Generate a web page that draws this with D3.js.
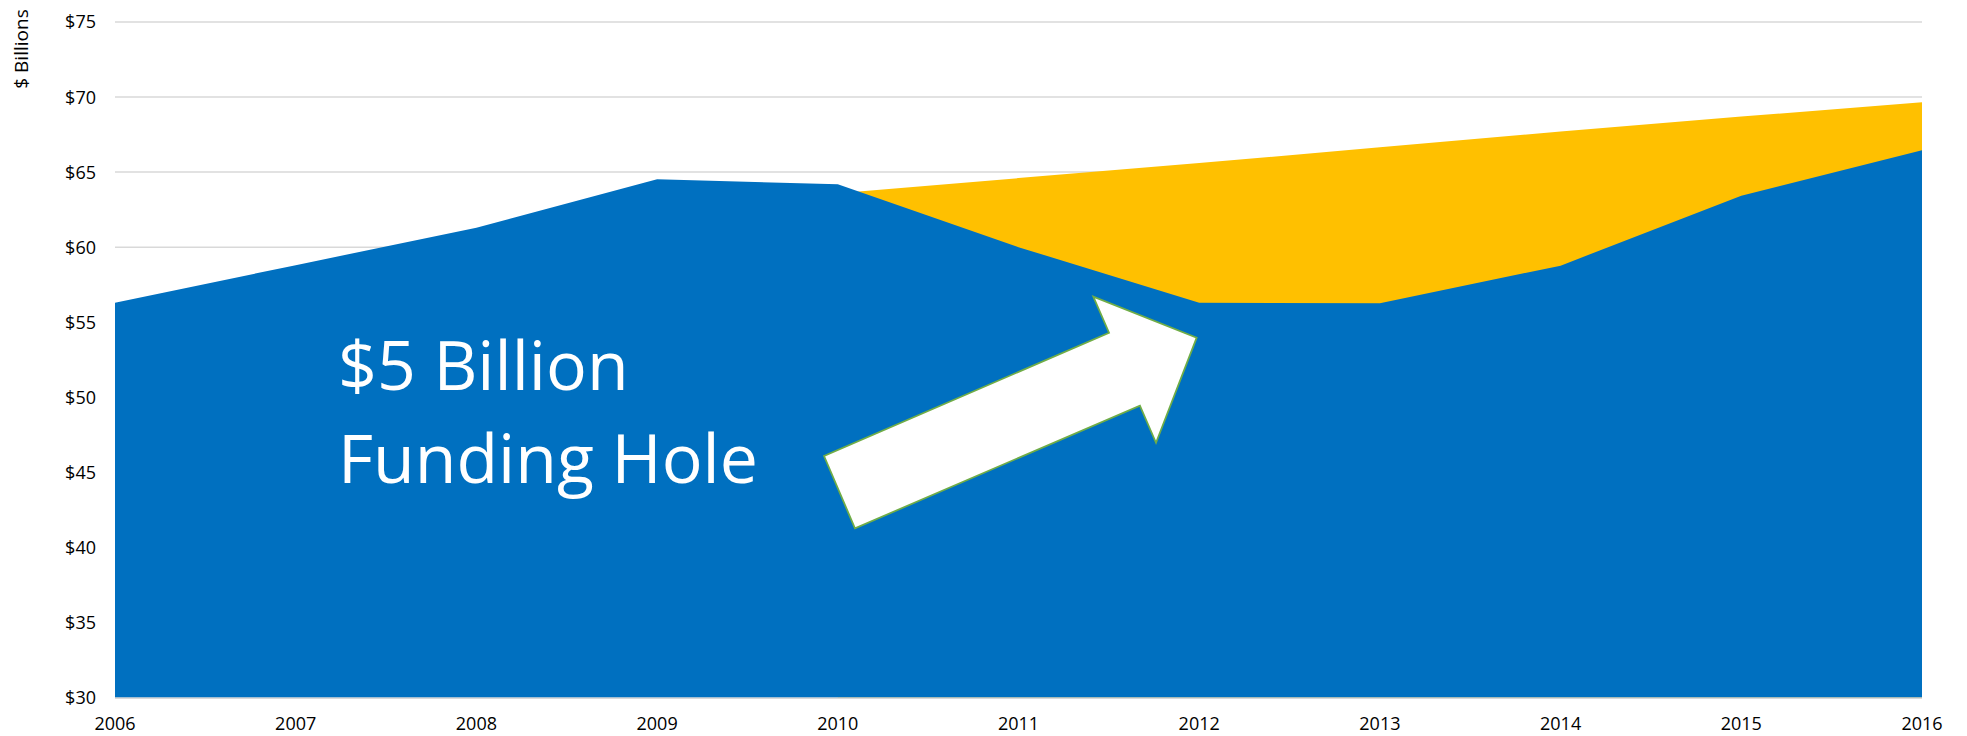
<!DOCTYPE html>
<html>
<head>
<meta charset="utf-8">
<script src="https://cdn.jsdelivr.net/npm/d3@7"></script>
<style>
  html, body { margin: 0; padding: 0; background: #fff; }
  svg { display: block; }
  text { font-family: "Open Sans", "Liberation Sans", sans-serif; }
</style>
</head>
<body>
<svg id="chart" width="1967" height="736"></svg>
<script>
// ---- data ----
const years = [2006, 2007, 2008, 2009, 2010, 2011, 2012, 2013, 2014, 2015, 2016];
const actualFunding = [56.3, 58.8, 61.3, 64.52, 64.19, 60.0, 56.3, 56.26, 58.77, 63.43, 66.45];
const projectedYears = [2010, 2011, 2012, 2013, 2014, 2015, 2016];
const projectedFunding = [63.6, 64.6, 65.6, 66.65, 67.7, 68.7, 69.65];
const yTicks = [30, 35, 40, 45, 50, 55, 60, 65, 70, 75];
const yAxisTitle = "$ Billions";
const annotationLines = ["$5 Billion", "Funding Hole"];
// arrow outline in data units (year, $B)
const arrowYears  = [2010.095, 2009.924, 2011.501, 2011.414, 2011.986, 2011.761, 2011.672];
const arrowValues = [41.27, 46.09, 54.30, 56.70, 53.97, 46.97, 49.44];

// ---- layout ----
const svg = d3.select("#chart");
const x = d3.scaleLinear().domain([2006, 2016]).range([115, 1922]);
const y = d3.scaleLinear().domain([30, 75]).range([697.5, 22]);

// gridlines
svg.append("g")
  .selectAll("line")
  .data(yTicks)
  .join("line")
  .attr("x1", x(2006)).attr("x2", x(2016))
  .attr("y1", d => y(d)).attr("y2", d => y(d))
  .attr("stroke", "#d9d9d9").attr("stroke-width", 1.5);

// projected (yellow) area, behind
const projData = projectedYears.map((yr, i) => ({ yr, v: projectedFunding[i] }));
svg.append("path")
  .datum(projData)
  .attr("fill", "#FFC000")
  .attr("d", d3.area().x(d => x(d.yr)).y0(y(30)).y1(d => y(d.v)));

// actual (blue) area
const actData = years.map((yr, i) => ({ yr, v: actualFunding[i] }));
svg.append("path")
  .datum(actData)
  .attr("fill", "#0070C0")
  .attr("d", d3.area().x(d => x(d.yr)).y0(y(30)).y1(d => y(d.v)));

// bottom axis line
svg.append("line")
  .attr("x1", x(2006)).attr("x2", x(2016))
  .attr("y1", y(30) + 0.75).attr("y2", y(30) + 0.75)
  .attr("stroke", "#d9d9d9").attr("stroke-width", 1.5);

// y tick labels
svg.append("g")
  .selectAll("text")
  .data(yTicks)
  .join("text")
  .attr("x", 96)
  .attr("y", d => y(d))
  .attr("dy", "0.36em")
  .attr("text-anchor", "end")
  .attr("font-size", 18)
  .attr("fill", "#000")
  .text(d => "$" + d);

// x tick labels
svg.append("g")
  .selectAll("text")
  .data(years)
  .join("text")
  .attr("x", d => x(d))
  .attr("y", 730)
  .attr("text-anchor", "middle")
  .attr("font-size", 18)
  .attr("fill", "#000")
  .text(d => d);

// y axis title
svg.append("text")
  .attr("transform", "translate(28,49) rotate(-90)")
  .attr("text-anchor", "middle")
  .attr("font-size", 19)
  .attr("fill", "#000")
  .text(yAxisTitle);

// annotation text
svg.append("g")
  .selectAll("text")
  .data(annotationLines)
  .join("text")
  .attr("x", 338)
  .attr("y", (d, i) => 390 + i * 93)
  .attr("font-size", 68)
  .attr("fill", "#fff")
  .text(d => d);

// arrow
const arrowPts = arrowYears.map((yr, i) => [x(yr), y(arrowValues[i])]);
svg.append("polygon")
  .attr("points", arrowPts.map(p => p.join(",")).join(" "))
  .attr("fill", "#fff")
  .attr("stroke", "#70AD47")
  .attr("stroke-width", 1.75)
  .attr("stroke-linejoin", "miter");
</script>
</body>
</html>
